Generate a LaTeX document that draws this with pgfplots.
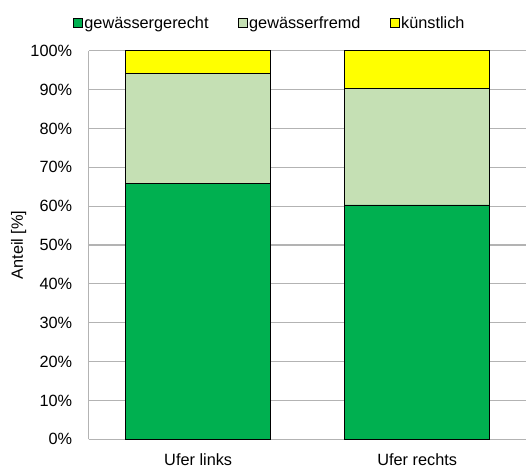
\documentclass[border=0pt]{standalone}
\usepackage{pgfplots}
\pgfplotsset{compat=1.18}
\usepackage{fontspec}
\setmainfont{Liberation Sans}
\definecolor{cgreen}{HTML}{00B050}
\definecolor{clight}{HTML}{C5E0B4}
\definecolor{cyellow}{HTML}{FFFF00}
\definecolor{cgrid}{HTML}{B3B3B3}
\begin{document}
\begin{tikzpicture}
\path[use as bounding box] (-88.7bp,-29.7bp) rectangle (437.3bp,439.3bp);
\begin{axis}[
  at={(0bp,0bp)}, anchor=south west,
  scale only axis,
  width=438bp, height=388.6bp,
  ybar stacked, bar width=145bp,
  xmin=-0.5, xmax=1.5, ymin=0, ymax=100,
  xtick={0,1}, xticklabels={Ufer links, Ufer rechts},
  ytick={0,10,...,100},
  yticklabel={\pgfmathprintnumber{\tick}\%},
  /pgf/number format/assume math mode=true,
  font=\fontsize{16.3bp}{19bp}\selectfont,
  ymajorgrids, grid style={cgrid, line width=1.2bp},
  axis lines*=left,
  axis line style={cgrid, line width=1.2bp, -},
  major tick length=0pt,
  yticklabel style={xshift=-13bp},
  xticklabel style={yshift=-11bp},
  ylabel={Anteil [\%]},
  every axis y label/.style={at={(rel axis cs:0,0.5)}, xshift=-70bp, rotate=90, anchor=center},
  legend columns=3,
  legend style={draw=none, at={(0.5,1)}, anchor=south, xshift=-38bp, yshift=17bp, font=\fontsize{16.3bp}{19bp}\selectfont,
    /tikz/every even column/.append style={column sep=27bp}},
  legend image code/.code={\draw[#1, draw=black, line width=0.6bp] (0bp,-4.5bp) rectangle (9bp,4.5bp);},
]
\addplot[fill=cgreen, draw=black, line width=0.9bp] coordinates {(0,65.8) (1,60.3)};
\addplot[fill=clight, draw=black, line width=0.9bp] coordinates {(0,28.4) (1,30.1)};
\addplot[fill=cyellow, draw=black, line width=0.9bp] coordinates {(0,5.8) (1,9.6)};
\legend{gewässergerecht, gewässerfremd, künstlich}
\end{axis}
\end{tikzpicture}
\end{document}
